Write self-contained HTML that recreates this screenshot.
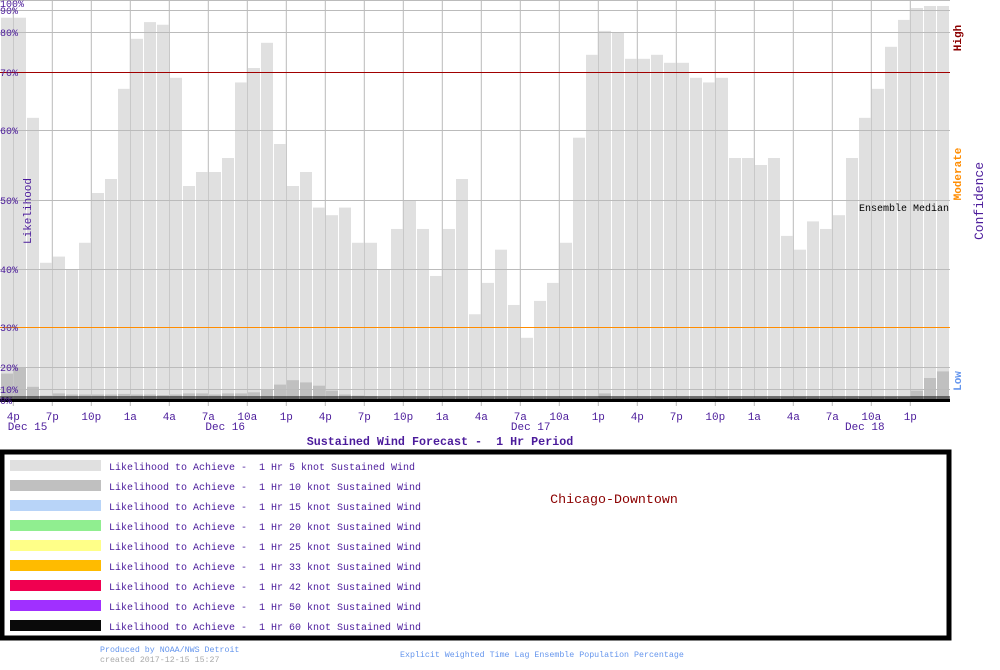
<!DOCTYPE html>
<html><head><meta charset="utf-8"><style>
html,body{margin:0;padding:0;background:#fff;width:1000px;height:670px;overflow:hidden}
svg text{font-family:"Liberation Mono","DejaVu Sans Mono",monospace}
</style></head><body>
<svg id="chart" width="1000" height="670" viewBox="0 0 1000 670" xmlns="http://www.w3.org/2000/svg">
<g id="vgrid"></g>
<g id="bars"></g>
<g id="hgrid"></g>
<g id="axes"></g>
<text x="31" y="211" transform="rotate(-90 31 211)" text-anchor="middle" font-size="11" fill="#4b1b9b">Likelihood</text>
<text x="983" y="201" transform="rotate(-90 983 201)" text-anchor="middle" font-size="13" fill="#4b1b9b">Confidence</text>
<text x="961" y="38" transform="rotate(-90 961 38)" text-anchor="middle" font-size="11" font-weight="bold" fill="#8b0000">High</text>
<text x="961" y="174" transform="rotate(-90 961 174)" text-anchor="middle" font-size="11" font-weight="bold" fill="#ff8c00">Moderate</text>
<text x="961" y="381" transform="rotate(-90 961 381)" text-anchor="middle" font-size="11" font-weight="bold" fill="#6495ed">Low</text>
<text x="949" y="211" text-anchor="end" font-size="10" fill="#000">Ensemble Median</text>
<text x="440" y="445" text-anchor="middle" font-size="11.7" font-weight="bold" fill="#4b1b9b" xml:space="preserve">Sustained Wind Forecast -  1 Hr Period</text>
<rect x="2" y="452" width="947" height="186" fill="#fff" stroke="#000" stroke-width="5"/>
<g id="legend"></g>
<text x="614" y="503" text-anchor="middle" font-size="13.3" fill="#8b0000">Chicago-Downtown</text>
<text x="100" y="652" font-size="8.3" fill="#6495ed">Produced by NOAA/NWS Detroit</text>
<text x="100" y="662" font-size="8.3" fill="#aaa">created 2017-12-15 15:27</text>
<text x="400" y="657" font-size="8.3" fill="#6495ed">Explicit Weighted Time Lag Ensemble Population Percentage</text>
</svg>
<script>
const NS='http://www.w3.org/2000/svg';
const yLevels=[0,10,20,30,40,50,60,70,80,90,100];
const yTickLabels=['0%','10%','20%','30%','40%','50%','60%','70%','80%','90%','100%'];
const s5=[86.5,86.5,62.1,40.9,41.8,40,43.8,51,53,67.1,78.3,84.5,83.3,69,52,54,54,56,68.2,71,77.3,58,52,54,48.9,47.8,48.9,43.8,43.8,40,45.8,50,45.8,38.8,45.8,53,32.2,37.6,42.8,33.8,27.3,34.5,37.6,43.8,58.9,74.3,80.5,80,73.3,73.3,74.3,72.3,72.3,69,68.2,69,56,56,55,56,44.8,42.8,46.9,45.8,47.8,56,62.1,67.1,76.3,85.5,92,94,94];
const s10=[17,20,11,4,6,5,5,5,5,5.5,5,5,4.5,5,6,6,5,6,6,7,10,12,14,13,11.5,8.5,5,4,3.5,2,2,2,2,2,2,2,2,2,2,2,2,2,2,2,2,2,6,2,2,2,2,2,2,2,2,2.5,2,2,2,2,2.5,3,2,2,2,2,2.5,2.5,2.5,2.5,8.5,15,18];
const tickLabels=['4p','7p','10p','1a','4a','7a','10a','1p','4p','7p','10p','1a','4a','7a','10a','1p','4p','7p','10p','1a','4a','7a','10a','1p'];
const tickHours=[1,4,7,10,13,16,19,22,25,28,31,34,37,40,43,46,49,52,55,58,61,64,67,70];
const dateLabels=['Dec 15','Dec 16','Dec 17','Dec 18'];
const dateHours=[2.1,17.3,40.8,66.5];
const legendLabels=['5','10','15','20','25','33','42','50','60'];
const legendColors=['#e0e0e0','#c0c0c0','#b8d4f8','#90ee90','#ffff88','#ffbb00','#f00050','#a030ff','#0a0a0a'];
// axis functions
const yPix=[400,389,367,327,269,200,130,72,32,10,0];
function y(v){v=Math.max(0,Math.min(100,v));let i=Math.min(9,Math.floor(v/10));const t=(v-yLevels[i])/10;return yPix[i]+(yPix[i+1]-yPix[i])*t;}
function x(h){return 0.3+13*h;}
function mk(tag,attrs,parent){const e=document.createElementNS(NS,tag);for(const k in attrs)e.setAttribute(k,attrs[k]);parent.appendChild(e);return e;}
const vg=document.getElementById('vgrid'),bars=document.getElementById('bars'),hg=document.getElementById('hgrid'),ax=document.getElementById('axes'),lg=document.getElementById('legend');
tickHours.forEach((h,i)=>{
  const l=mk('line',{x1:x(h),x2:x(h),y1:0,y2:406,stroke:'#bbb','stroke-width':1},vg);
  
  
  const t=mk('text',{x:x(h),y:420,'text-anchor':'middle','font-size':11,fill:'#4b1b9b'},ax);
  
  
  t.textContent=tickLabels[i];
});
dateLabels.forEach((d,i)=>{
  const t=mk('text',{x:x(dateHours[i]),y:430,'text-anchor':'middle','font-size':11,fill:'#4b1b9b'},ax);
  
  
  t.textContent=d;
});
s5.forEach((v,i)=>{
  const r=mk('rect',{x:x(i)+0.7,y:y(v),width:12,height:400-y(v),fill:'#e0e0e0'},bars);
  
  
});
s10.forEach((v,i)=>{
  const r=mk('rect',{x:x(i)+0.7,y:y(v),width:12,height:400-y(v),fill:'#c0c0c0'},bars);
  
  
});
yLevels.forEach((v,i)=>{
  let col='#bbb';if(v===70)col='#a00000';if(v===30)col='#ff8c00';
  if(v>0){const l=mk('line',{x1:0,x2:950,y1:y(v)+0.5,y2:y(v)+0.5,stroke:col,'stroke-width':1},hg);
  
  }
  const t=mk('text',{x:0,y:Math.min(406,Math.max(7,y(v)+4)),'font-size':10,fill:'#4b1b9b'},ax);
  
  
  t.textContent=yTickLabels[i];
});
const b1=mk('rect',{x:0,y:396.5,width:950,height:1,fill:'#000'},hg);


const b2=mk('rect',{x:0,y:398.5,width:950,height:3.5,fill:'#000'},hg);


legendLabels.forEach((k,i)=>{
  const yy=460+20*i;
  const r=mk('rect',{x:10,y:yy,width:91,height:11,fill:legendColors[i]},lg);
  
  
  const t=mk('text',{x:109,y:yy+10,'font-size':10,fill:'#4b1b9b','xml:space':'preserve'},lg);
  
  
  t.setAttribute('style','white-space:pre');
  t.textContent='Likelihood to Achieve -  1 Hr '+k+' knot Sustained Wind';
});
</script>
</body></html>
